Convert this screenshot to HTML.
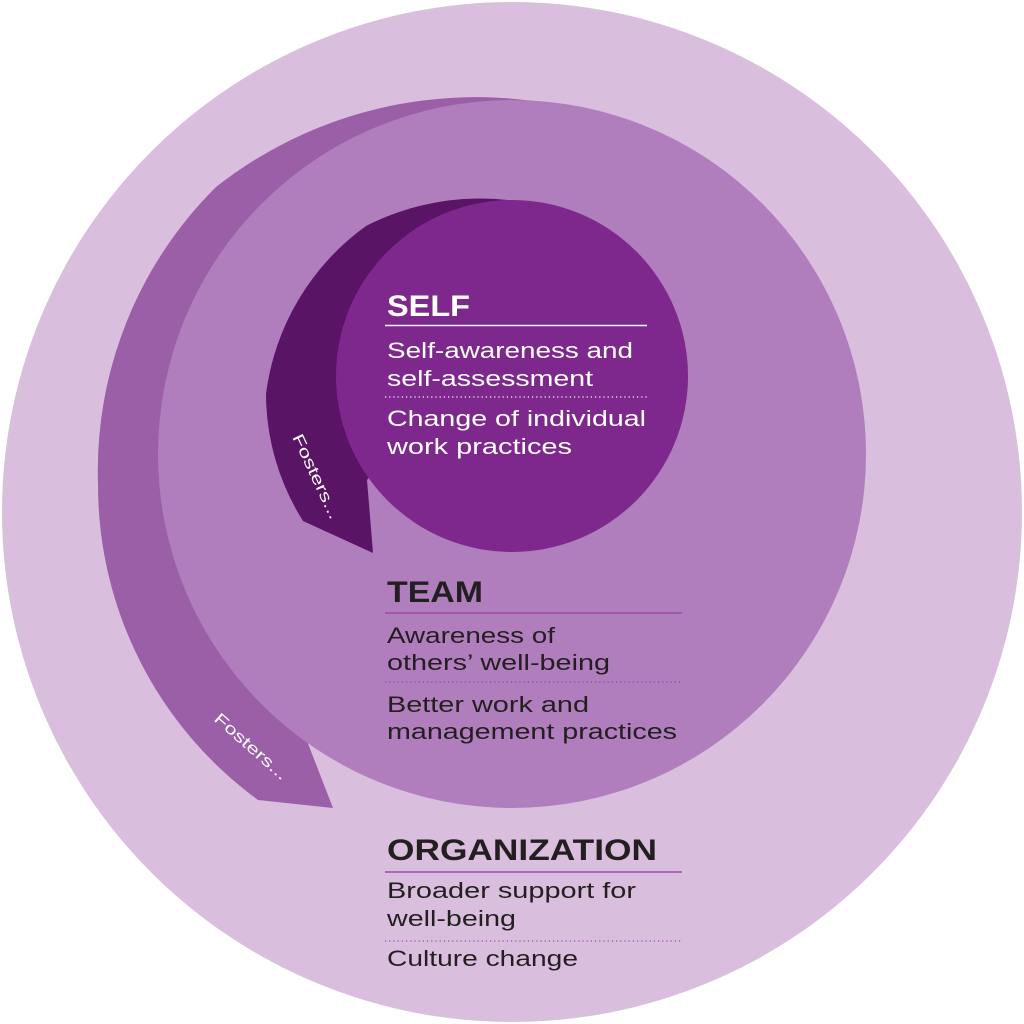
<!DOCTYPE html>
<html><head><meta charset="utf-8"><style>
html,body{margin:0;padding:0;background:#fff;}
svg{display:block;}
text{font-family:"Liberation Sans",sans-serif;}
</style></head><body>
<svg width="1024" height="1024" viewBox="0 0 1024 1024" xmlns="http://www.w3.org/2000/svg">
<rect width="1024" height="1024" fill="#fff"/>
<circle cx="512" cy="512" r="510" fill="#d9bedd"/>
<path d="M600,116 A420,420 0 0 0 216,187 A400,400 0 0 0 98,484 A390,390 0 0 0 258,800 L333,808 L307,741 L450,500 Z" fill="#9b5fa8"/>
<circle cx="512" cy="454" r="354" fill="#b07dbd"/>
<path d="M590,224 A250,250 0 0 0 366,226 A245,245 0 0 0 266,394 A240,240 0 0 0 303,521 L373,553 L367,480 L450,380 Z" fill="#5a1466"/>
<circle cx="512" cy="376" r="176" fill="#7e288e"/>

<g fill="#fff">
<text x="387" y="316" font-size="30" font-weight="bold" textLength="83" lengthAdjust="spacingAndGlyphs">SELF</text>
<text x="387" y="358" font-size="22" textLength="246" lengthAdjust="spacingAndGlyphs">Self-awareness and</text>
<text x="387" y="386" font-size="22" textLength="206" lengthAdjust="spacingAndGlyphs">self-assessment</text>
<text x="387" y="426" font-size="22" textLength="259" lengthAdjust="spacingAndGlyphs">Change of individual</text>
<text x="387" y="454" font-size="22" textLength="185" lengthAdjust="spacingAndGlyphs">work practices</text>
</g>
<line x1="385" y1="325.5" x2="647" y2="325.5" stroke="#fff" stroke-width="1.5"/>
<line x1="385" y1="397" x2="647" y2="397" stroke="#fff" stroke-width="1.2" stroke-dasharray="1.2 3"/>

<g fill="#231f20">
<text x="387" y="602" font-size="30" font-weight="bold" textLength="96" lengthAdjust="spacingAndGlyphs">TEAM</text>
<text x="387" y="643" font-size="22" textLength="168" lengthAdjust="spacingAndGlyphs">Awareness of</text>
<text x="387" y="670" font-size="22" textLength="223" lengthAdjust="spacingAndGlyphs">others’ well-being</text>
<text x="387" y="712" font-size="22" textLength="202" lengthAdjust="spacingAndGlyphs">Better work and</text>
<text x="387" y="739" font-size="22" textLength="290" lengthAdjust="spacingAndGlyphs">management practices</text>
</g>
<line x1="385" y1="613" x2="682" y2="613" stroke="#9b4aa8" stroke-width="1.5"/>
<line x1="385" y1="682" x2="682" y2="682" stroke="#8a4a98" stroke-width="1.2" stroke-dasharray="1.2 3"/>

<g fill="#231f20">
<text x="387" y="860" font-size="30" font-weight="bold" textLength="270" lengthAdjust="spacingAndGlyphs">ORGANIZATION</text>
<text x="387" y="898" font-size="22" textLength="249" lengthAdjust="spacingAndGlyphs">Broader support for</text>
<text x="387" y="926" font-size="22" textLength="129" lengthAdjust="spacingAndGlyphs">well-being</text>
<text x="387" y="966" font-size="22" textLength="191" lengthAdjust="spacingAndGlyphs">Culture change</text>
</g>
<line x1="385" y1="872" x2="682" y2="872" stroke="#9b4aa8" stroke-width="1.5"/>
<line x1="385" y1="941" x2="682" y2="941" stroke="#9b4aa8" stroke-width="1.2" stroke-dasharray="1.2 3"/>

<text x="0" y="0" font-size="16" fill="#fff" textLength="92" lengthAdjust="spacingAndGlyphs" transform="translate(292,437) rotate(65)">Fosters...</text>
<text x="0" y="0" font-size="16" fill="#fff" textLength="92" lengthAdjust="spacingAndGlyphs" transform="translate(213,720) rotate(41.5)">Fosters...</text>
</svg>
</body></html>
